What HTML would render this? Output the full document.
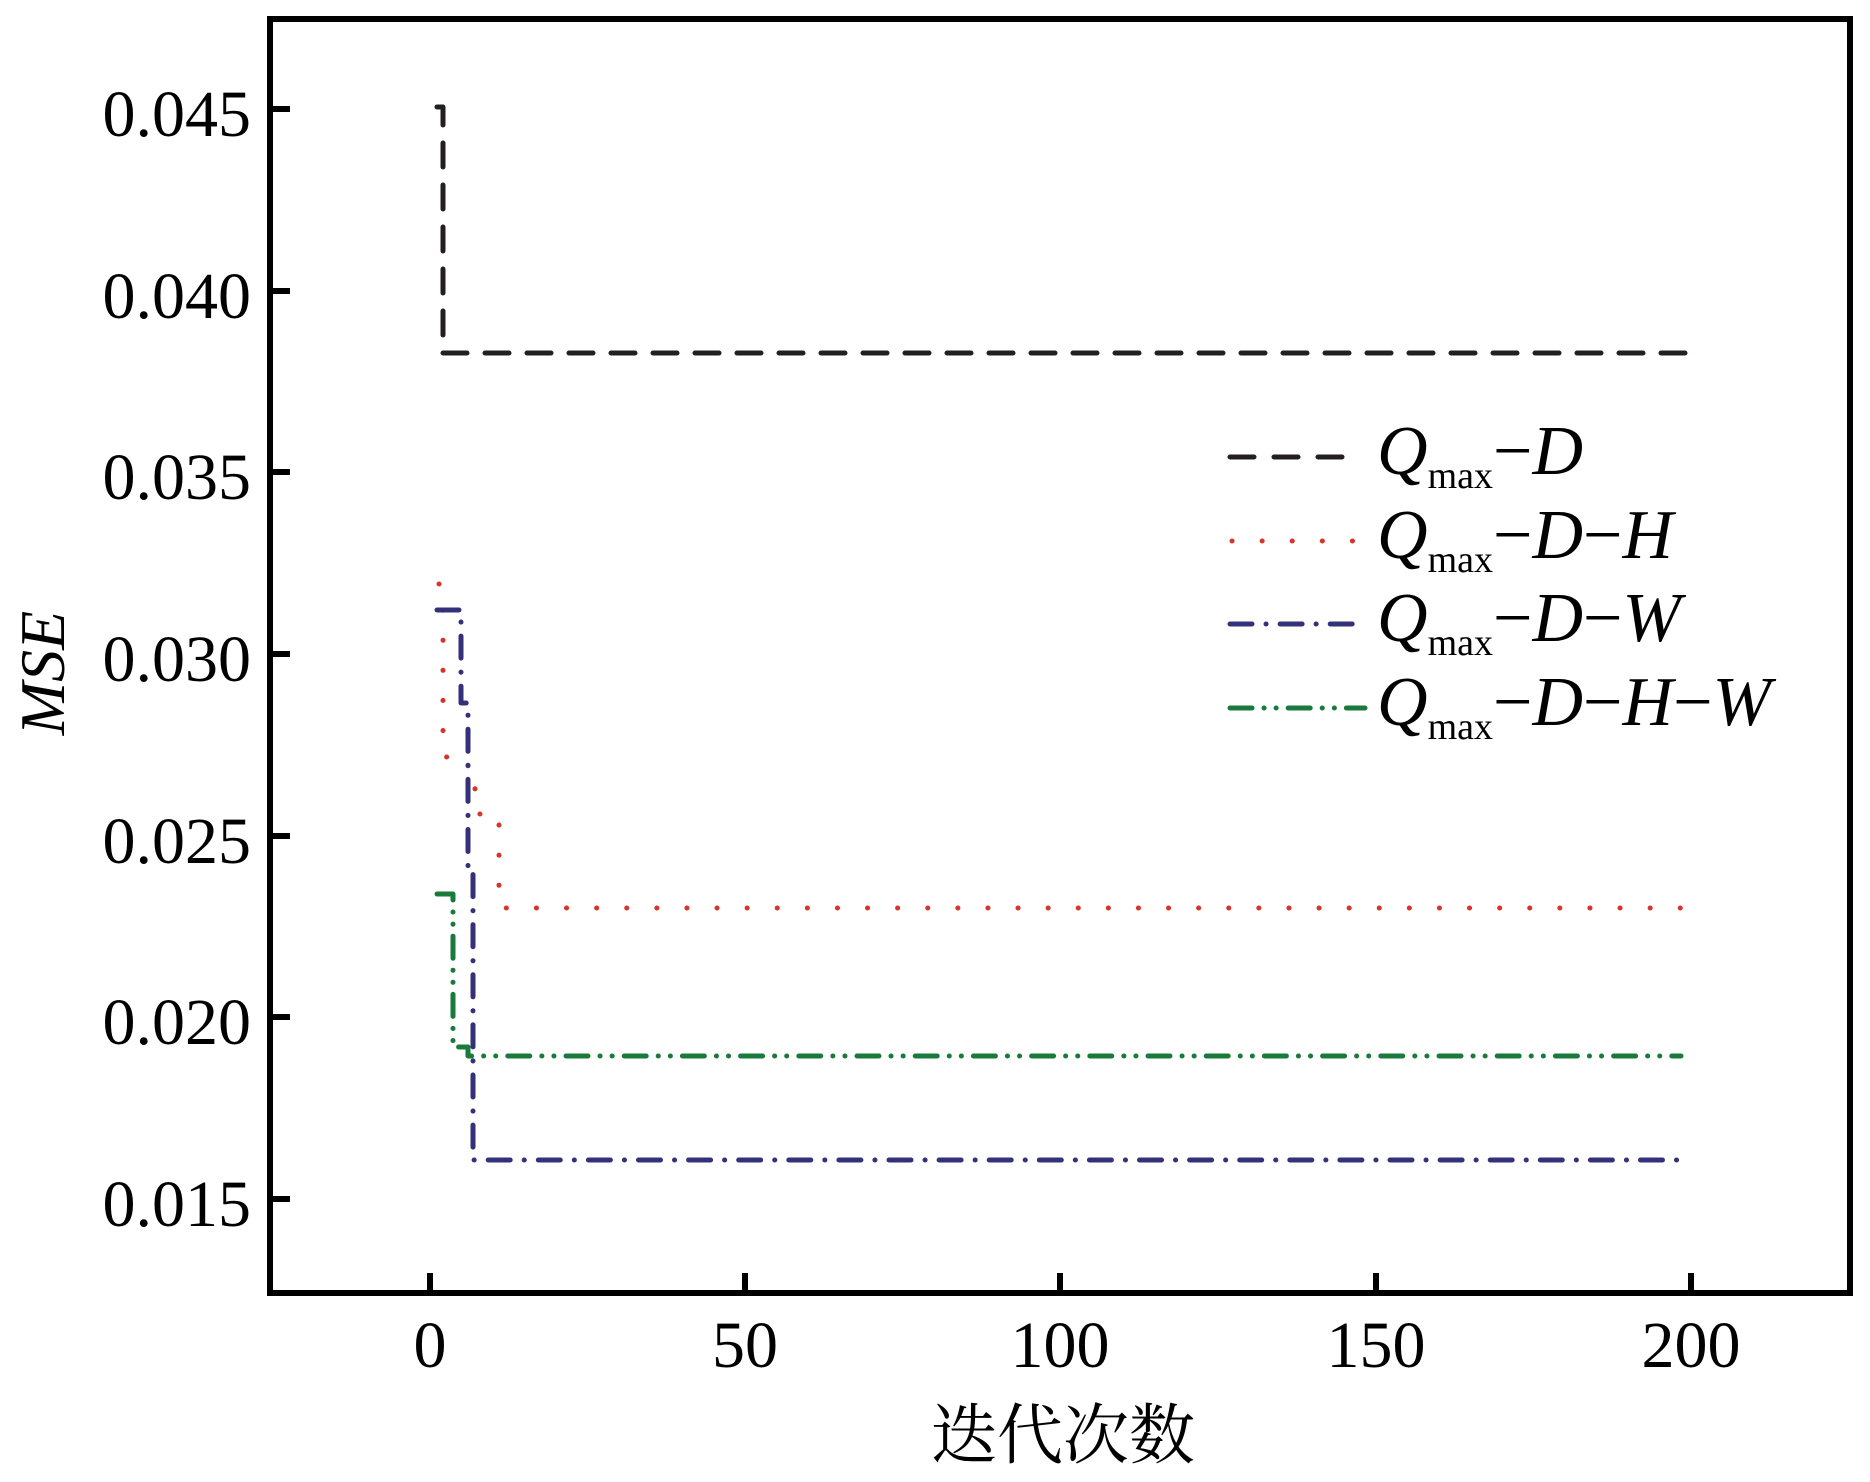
<!DOCTYPE html>
<html><head><meta charset="utf-8"><style>
html,body{margin:0;padding:0;background:#fff;}
svg{display:block;}
</style></head><body>
<svg width="1870" height="1482" viewBox="0 0 1870 1482" xmlns="http://www.w3.org/2000/svg">
<rect x="0" y="0" width="1870" height="1482" fill="#fff"/>
<rect x="270" y="19" width="1580" height="1274" fill="none" stroke="#000" stroke-width="6"/>
<g stroke="#000" stroke-width="6">
<line x1="270" y1="109" x2="290" y2="109"/>
<line x1="270" y1="291" x2="290" y2="291"/>
<line x1="270" y1="472" x2="290" y2="472"/>
<line x1="270" y1="654" x2="290" y2="654"/>
<line x1="270" y1="836" x2="290" y2="836"/>
<line x1="270" y1="1017" x2="290" y2="1017"/>
<line x1="270" y1="1199" x2="290" y2="1199"/>
<line x1="430" y1="1293" x2="430" y2="1273"/>
<line x1="745" y1="1293" x2="745" y2="1273"/>
<line x1="1060" y1="1293" x2="1060" y2="1273"/>
<line x1="1376" y1="1293" x2="1376" y2="1273"/>
<line x1="1691" y1="1293" x2="1691" y2="1273"/>
</g>
<g font-family="Liberation Serif, serif" font-size="66" fill="#000" text-anchor="end">
<text x="251" y="136">0.045</text>
<text x="251" y="318">0.040</text>
<text x="251" y="499">0.035</text>
<text x="251" y="681">0.030</text>
<text x="251" y="863">0.025</text>
<text x="251" y="1044">0.020</text>
<text x="251" y="1226">0.015</text>
</g>
<g font-family="Liberation Serif, serif" font-size="66" fill="#000" text-anchor="middle">
<text x="430" y="1367">0</text>
<text x="745" y="1367">50</text>
<text x="1060" y="1367">100</text>
<text x="1376" y="1367">150</text>
<text x="1691" y="1367">200</text>
</g>
<text x="1063" y="1458" font-family="Liberation Serif, 'Noto Serif CJK SC', serif" font-size="66" text-anchor="middle">迭代次数</text>
<text transform="translate(64,673) rotate(-90)" font-family="Liberation Serif, serif" font-style="italic" font-size="64" text-anchor="middle">MSE</text>
<g fill="none" stroke-linecap="round" stroke-linejoin="round">
<polyline points="437,107 443,107 443,353 1690,353" stroke="#231f20" stroke-width="5" stroke-dasharray="24,18"/>
<polyline points="439,584 443,584 443,757 468,757 468,787 475,787 475,814 499,814 499,908 1681,908" stroke="#d8352a" stroke-width="5" stroke-dasharray="0.1,30"/>
<polyline points="437,610 461,610 461,703 468,703 468,870 473,870 473,1160 1690,1160" stroke="#35307a" stroke-width="5" stroke-dasharray="22,14,0.1,14"/>
<polyline points="437,894 453,894 453,1047 468,1047 468,1056 1681,1056" stroke="#1a7a3c" stroke-width="5" stroke-dasharray="22,12,0.1,12,0.1,12"/>
</g>
<g fill="none" stroke-linecap="round" stroke-width="5">
<line x1="1230" y1="457" x2="1353" y2="457" stroke="#231f20" stroke-dasharray="24,20"/>
<line x1="1232" y1="541" x2="1353" y2="541" stroke="#d8352a" stroke-dasharray="0.1,30"/>
<line x1="1230" y1="624" x2="1365" y2="624" stroke="#35307a" stroke-dasharray="22,14,0.1,14"/>
<line x1="1230" y1="708" x2="1365" y2="708" stroke="#1a7a3c" stroke-dasharray="22,12,0.1,12,0.1,12"/>
</g>
<g font-family="Liberation Serif, serif" font-size="70" fill="#000">
<text x="1377" y="474"><tspan font-style="italic">Q</tspan><tspan font-size="38" dy="14">max</tspan><tspan dy="-14">−</tspan><tspan font-style="italic">D</tspan></text>
<text x="1377" y="558"><tspan font-style="italic">Q</tspan><tspan font-size="38" dy="14">max</tspan><tspan dy="-14">−</tspan><tspan font-style="italic">D</tspan>−<tspan font-style="italic">H</tspan></text>
<text x="1377" y="641"><tspan font-style="italic">Q</tspan><tspan font-size="38" dy="14">max</tspan><tspan dy="-14">−</tspan><tspan font-style="italic">D</tspan>−<tspan font-style="italic">W</tspan></text>
<text x="1377" y="725"><tspan font-style="italic">Q</tspan><tspan font-size="38" dy="14">max</tspan><tspan dy="-14">−</tspan><tspan font-style="italic">D</tspan>−<tspan font-style="italic">H</tspan>−<tspan font-style="italic">W</tspan></text>
</g>
</svg>
</body></html>
